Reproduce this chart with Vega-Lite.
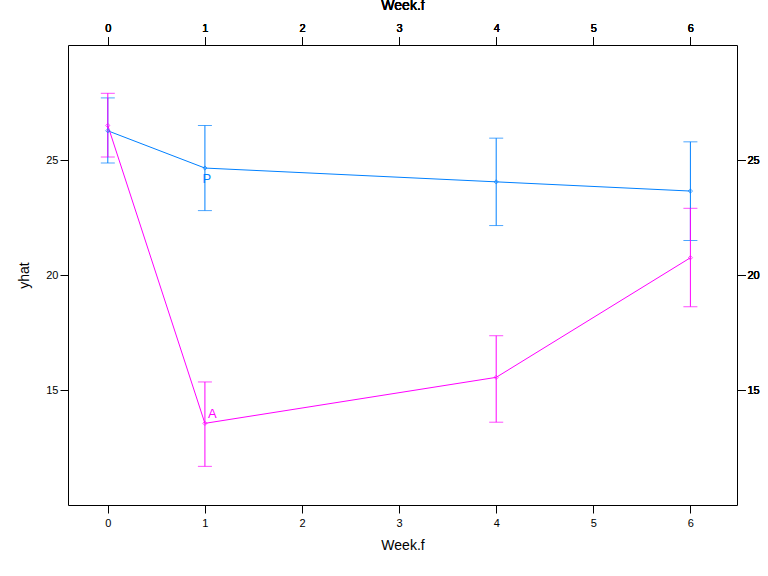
{
  "$schema": "https://vega.github.io/schema/vega-lite/v6.json",
  "width": 669,
  "height": 460,
  "autosize": "none",
  "padding": {"left": 68, "top": 45, "right": 31, "bottom": 71},
  "data": {
    "values": [
      {"week": 0, "group": "P", "yhat": 26.27, "lo": 24.87, "hi": 27.7},
      {"week": 1, "group": "P", "yhat": 24.65, "lo": 22.8, "hi": 26.5},
      {"week": 4, "group": "P", "yhat": 24.05, "lo": 22.15, "hi": 25.95},
      {"week": 6, "group": "P", "yhat": 23.65, "lo": 21.5, "hi": 25.79},
      {"week": 0, "group": "A", "yhat": 26.5, "lo": 25.13, "hi": 27.9},
      {"week": 1, "group": "A", "yhat": 13.55, "lo": 11.68, "hi": 15.35},
      {"week": 4, "group": "A", "yhat": 15.55, "lo": 13.6, "hi": 17.36},
      {"week": 6, "group": "A", "yhat": 20.75, "lo": 18.62, "hi": 22.9}
    ]
  },
  "encoding": {
    "x": {"field": "week", "type": "quantitative", "scale": {"domain": [-0.41, 6.48], "nice": false, "zero": false},
      "axis": {"title": "Week.f", "values": [0, 1, 2, 3, 4, 5, 6], "grid": false, "tickSize": 8, "labelPadding": 4, "titlePadding": 10}},
    "y": {"field": "yhat", "type": "quantitative", "scale": {"domain": [10, 30], "nice": false, "zero": false},
      "axis": {"title": "yhat", "values": [15, 20, 25], "grid": false, "tickSize": 8, "titlePadding": 14}},
    "color": {"field": "group", "type": "nominal", "legend": null,
      "scale": {"domain": ["P", "A"], "range": ["#0080ff", "#ff00ff"]}}
  },
  "layer": [
    {"mark": {"type": "errorbar", "ticks": {"size": 14}, "thickness": 1},
      "encoding": {"y": {"field": "lo", "type": "quantitative", "title": "yhat"}, "y2": {"field": "hi"}}},
    {"mark": {"type": "line", "strokeWidth": 1}},
    {"mark": {"type": "point", "size": 18, "strokeWidth": 1, "shape": "diamond"}},
    {"transform": [{"filter": "datum.week == 1 && datum.group == 'A'"}],
      "mark": {"type": "text", "fontSize": 13, "align": "left", "baseline": "middle", "dx": 3, "dy": -9},
      "encoding": {"text": {"field": "group"}}},
    {"transform": [{"filter": "datum.week == 1 && datum.group == 'P'"}],
      "mark": {"type": "text", "fontSize": 13, "align": "center", "baseline": "middle", "dx": 2, "dy": 11},
      "encoding": {"text": {"field": "group"}}},
    {"mark": {"type": "rule", "opacity": 0}, "encoding": {
      "x": {"field": "week", "type": "quantitative", "axis": {"orient": "top", "labels": false, "title": null, "values": [0, 1, 2, 3, 4, 5, 6], "tickSize": 8, "grid": false}},
      "y": {"field": "yhat", "type": "quantitative", "axis": {"orient": "right", "labels": false, "title": null, "values": [15, 20, 25], "tickSize": 8, "grid": false}}}}
  ],
  "resolve": {"axis": {"x": "independent", "y": "independent"}},
  "config": {
    "view": {"stroke": "black", "strokeWidth": 1},
    "axis": {"domain": false, "tickColor": "black", "labelColor": "black", "titleColor": "black",
      "labelFont": "Arial", "titleFont": "Arial", "labelFontSize": 11, "titleFontSize": 14, "titleFontWeight": "normal"},
    "text": {"font": "Arial"}
  }
}
